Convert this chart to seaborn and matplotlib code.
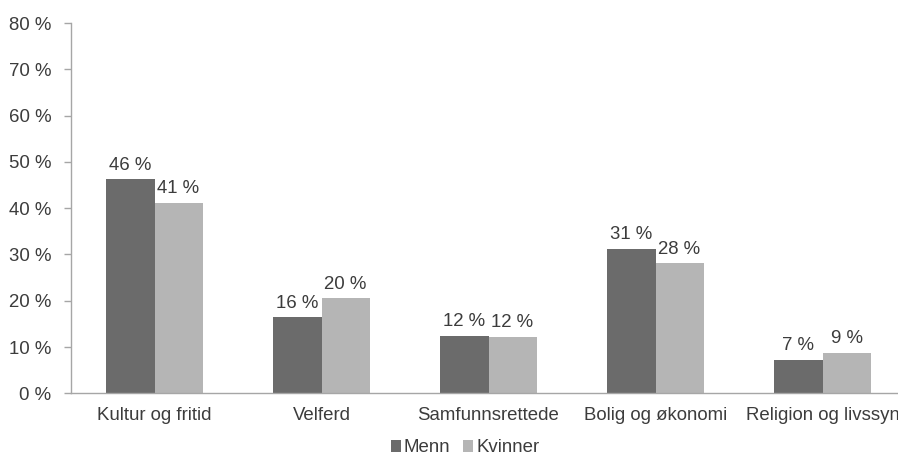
import matplotlib
matplotlib.use("Agg")
import matplotlib.pyplot as plt
import seaborn as sns
import pandas as pd
from matplotlib.patches import Patch
from matplotlib.ticker import FixedLocator

categories = ["Kultur og fritid", "Velferd", "Samfunnsrettede", "Bolig og økonomi", "Religion og livssyn"]
menn = [46.2, 16.4, 12.4, 31.2, 7.2]
kvinner = [41.2, 20.5, 12.2, 28.1, 8.7]
series = ["Menn", "Kvinner"]
colors = ["#6b6b6b", "#b5b5b5"]
yticks = [0, 10, 20, 30, 40, 50, 60, 70, 80]

df = pd.DataFrame({
    "kategori": categories * 2,
    "kjonn": [series[0]] * len(categories) + [series[1]] * len(categories),
    "verdi": menn + kvinner,
})

sns.set_style("white")
plt.rcParams['font.family'] = ['Liberation Sans', 'DejaVu Sans']
text_color = "#3c3c3c"
axis_color = "#a6a6a6"
fs = 13.4

fig = plt.figure(figsize=(8.98, 4.57), dpi=100)
ax = fig.add_axes([71/898, 1-393.3/457, 835/898, (393.3-23)/457])

sns.barplot(data=df, x="kategori", y="verdi", hue="kjonn", order=categories,
            hue_order=series, palette=colors, width=0.575, gap=0, saturation=1,
            ax=ax, legend=False, edgecolor="none")

for cont in ax.containers:
    for rect in cont:
        h = rect.get_height()
        ax.text(rect.get_x() + rect.get_width()/2, h + 1.2, f"{round(h):d} %",
                ha="center", va="bottom", fontsize=fs, color=text_color)

ax.set_xlim(-0.5, len(categories) - 0.5)
ax.set_ylim(0, 80)
ax.set_yticks(yticks)
ax.set_yticklabels([f"{v} %" for v in yticks], fontsize=fs, color=text_color)
ax.set_xticks(range(len(categories)))
ax.set_xticklabels(categories, fontsize=fs, color=text_color)
ax.xaxis.set_minor_locator(FixedLocator([i - 0.5 for i in range(len(categories) + 1)]))
ax.tick_params(axis="x", which="major", length=0, pad=10)
ax.tick_params(axis="x", which="minor", length=5, color=axis_color, width=1)
ax.tick_params(axis="y", length=5, color=axis_color, width=1, pad=9, left=True)
ax.set_xlabel("")
ax.set_ylabel("")
for s in ["top", "right"]:
    ax.spines[s].set_visible(False)
for s in ["left", "bottom"]:
    ax.spines[s].set_color(axis_color)
    ax.spines[s].set_linewidth(1)

handles = [Patch(facecolor=c, edgecolor="none", label=l) for c, l in zip(colors, series)]
fig.legend(handles=handles, loc="center", bbox_to_anchor=(465/898, 1-448/457), ncol=2,
           frameon=False, fontsize=fs, handlelength=0.55, handleheight=0.55,
           handletextpad=0.15, columnspacing=0.7, labelcolor=text_color,
           borderpad=0, borderaxespad=0)

fig.savefig("out.png", dpi=100)
